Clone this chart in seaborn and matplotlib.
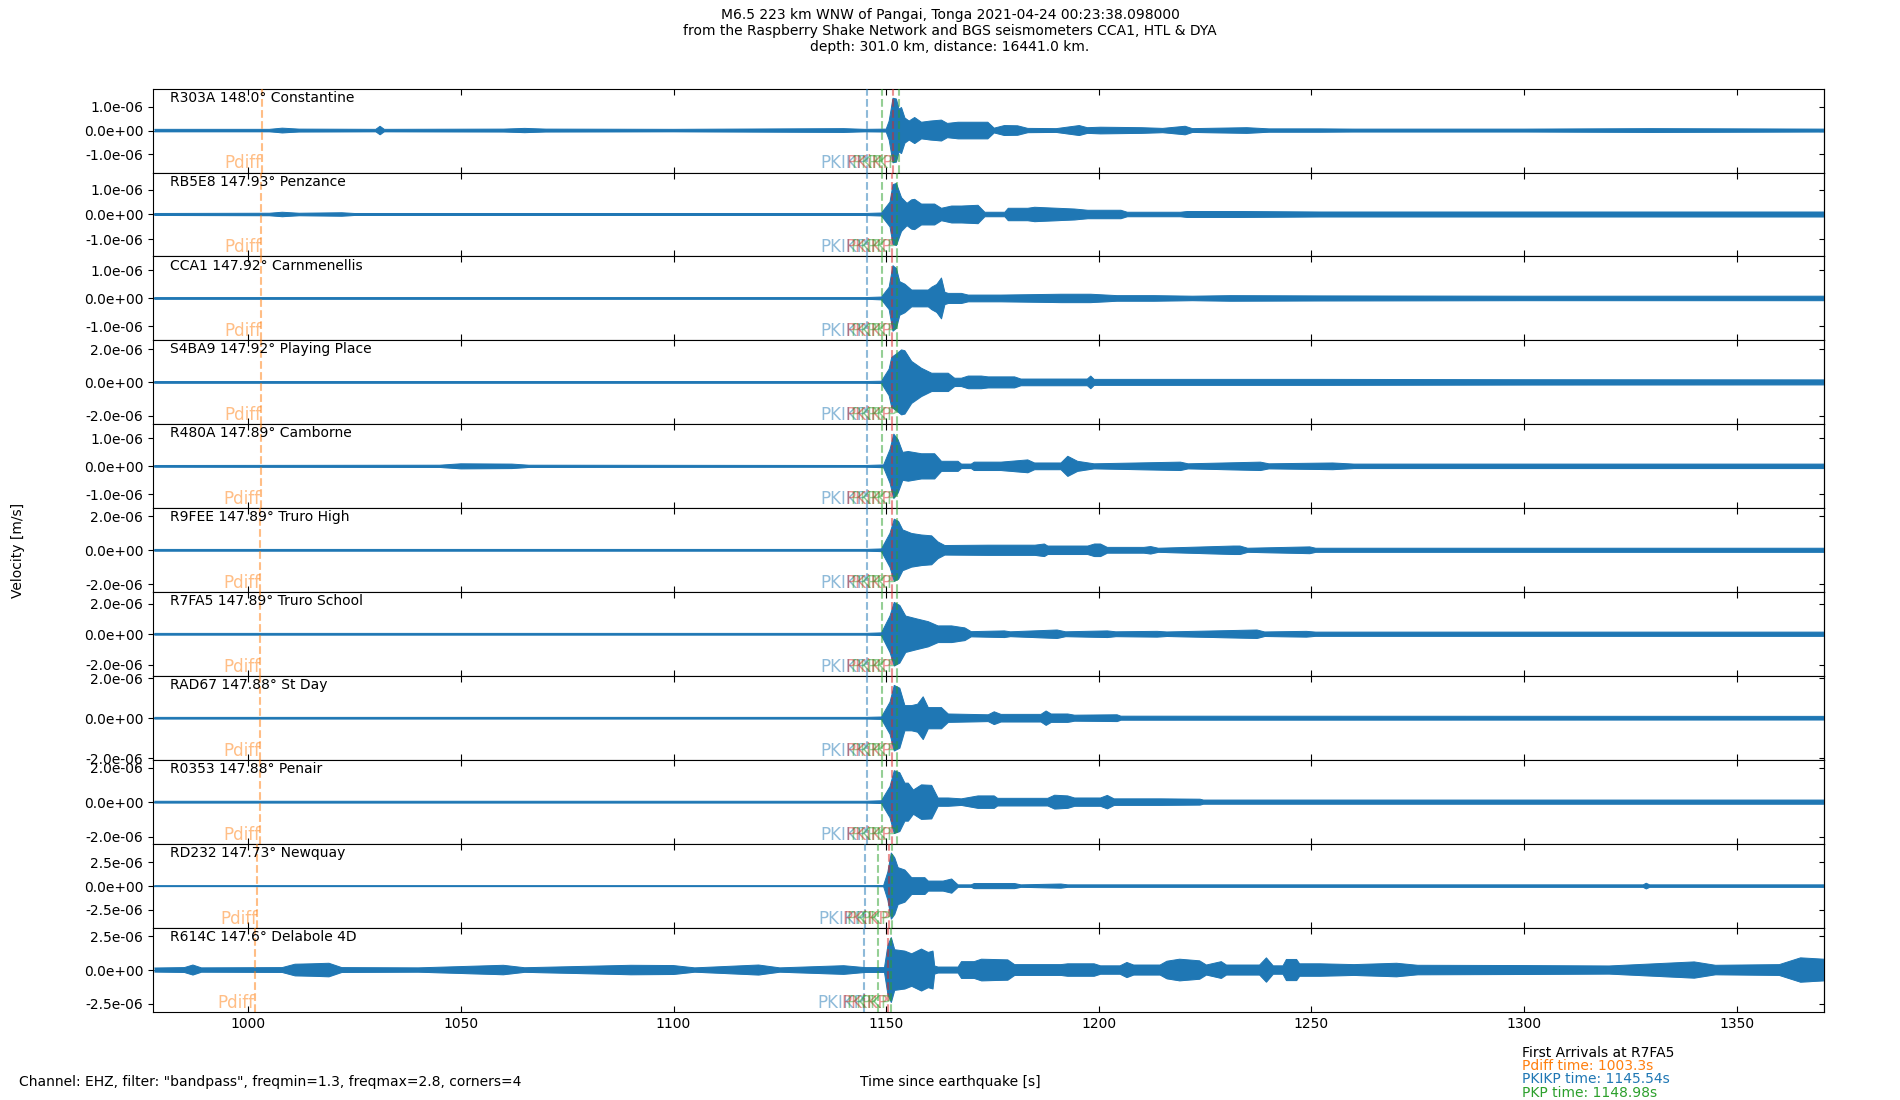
import numpy as np
import pandas as pd
import matplotlib
matplotlib.use("Agg")
import matplotlib.pyplot as plt
from matplotlib.ticker import FormatStrFormatter
import seaborn as sns

# ---------------- data ----------------
stations = ["R303A", "RB5E8", "CCA1", "S4BA9", "R480A", "R9FEE",
            "R7FA5", "RAD67", "R0353", "RD232", "R614C"]
distances = ["148.0", "147.93", "147.92", "147.92", "147.89", "147.89",
             "147.89", "147.88", "147.88", "147.73", "147.6"]
places = ["Constantine", "Penzance", "Carnmenellis", "Playing Place", "Camborne",
          "Truro High", "Truro School", "St Day", "Penair", "Newquay", "Delabole 4D"]

# y tick step and half y-range per panel [m/s]
ytick_step = [1.0e-6, 1.0e-6, 1.0e-6, 2.0e-6, 1.0e-6, 2.0e-6,
              2.0e-6, 2.0e-6, 2.0e-6, 2.5e-6, 2.5e-6]
ylim_half = [1.77e-6, 1.69e-6, 1.50e-6, 2.52e-6, 1.50e-6, 2.47e-6,
             2.77e-6, 2.10e-6, 2.43e-6, 4.44e-6, 3.10e-6]

# phase arrival times per station [s]
pdiff_t = [1003.2, 1003.1, 1003.0, 1003.0, 1002.9, 1002.8, 1002.8, 1002.8, 1002.8, 1002.1, 1001.5]
pkikp_t = [1145.6, 1145.55, 1145.55, 1145.55, 1145.55, 1145.54, 1145.54, 1145.5, 1145.5, 1145.1, 1144.9]
pkp_t = [1149.1, 1149.0, 1149.0, 1149.0, 1149.0, 1148.98, 1148.98, 1148.98, 1148.98, 1148.0, 1148.0]
pkikp_inner_t = [1151.5, 1151.3, 1151.3, 1151.3, 1151.3, 1151.3, 1151.3, 1151.3, 1151.3, 1150.7, 1150.5]
pkp2_t = [1152.9, 1152.6, 1152.6, 1152.6, 1152.6, 1152.6, 1152.6, 1152.6, 1152.6, 1151.3, 1151.2]

# first arrivals listed for R7FA5
first_phase = ["Pdiff", "PKIKP", "PKP"]
first_time = [1003.3, 1145.54, 1148.98]

# trace envelopes: (time [s], peak amplitude [1e-7 m/s])
R303A = [(978, 0.5), (1005, 0.5), (1008, 1.0), (1012, 0.6), (1030, 0.5), (1031, 1.8), (1032, 0.5),
         (1060, 0.6), (1065, 0.9), (1070, 0.6), (1100, 0.5), (1140, 0.8), (1145, 0.5), (1150.0, 0.6),
         (1150.7, 4.0), (1151.6, 13.6), (1152.4, 13.3), (1153.0, 9.0), (1153.6, 9.7), (1154.4, 5.3),
         (1155.4, 4.0), (1156.7, 5.5), (1158.3, 3.5), (1160.4, 4.0), (1163.0, 4.4), (1164.4, 3.0),
         (1166.9, 3.5), (1169.2, 3.5), (1171.4, 3.5), (1173.9, 3.5), (1175.4, 1.0), (1177.8, 2.1),
         (1180.9, 2.0), (1183.3, 0.9), (1190, 0.8), (1195.4, 2.1), (1197.3, 1.2), (1200.4, 1.4),
         (1210, 1.2), (1215, 0.9), (1220.3, 1.8), (1222, 0.8), (1234.8, 1.2), (1240, 0.7),
         (1252, 0.7), (1260, 0.6), (1300, 0.6), (1330, 0.8), (1370.5, 0.6)]
RB5E8 = [(978, 0.4), (1005, 0.5), (1008, 0.9), (1012, 0.5), (1022, 0.7), (1025, 0.4), (1100, 0.4),
         (1145, 0.4), (1148.9, 0.6), (1150.9, 5.0), (1151.6, 12.0), (1152.4, 12.5), (1153.6, 6.8),
         (1154.9, 4.5), (1156.0, 5.9), (1156.7, 6.1), (1158.3, 4.2), (1161.4, 4.2), (1163.0, 2.5),
         (1165.4, 3.4), (1167.7, 3.4), (1171.6, 3.7), (1173.2, 0.9), (1177.9, 0.9), (1178.7, 2.5),
         (1183.3, 2.5), (1184.9, 2.9), (1194.3, 2.2), (1197.4, 1.7), (1205.2, 1.7), (1206.7, 0.9),
         (1219.2, 0.9), (1220.8, 1.2), (1233.2, 1.2), (1252, 1.0), (1300, 1.0), (1370.5, 1.0)]
CCA1 = [(978, 0.3), (1100, 0.3), (1145, 0.3), (1148.9, 0.5), (1150.7, 4.0), (1151.6, 11.7),
        (1152.4, 10.7), (1153.2, 6.0), (1154.4, 5.1), (1156.0, 3.0), (1159.9, 3.0), (1160.7, 4.0),
        (1161.9, 5.0), (1163.0, 7.3), (1163.8, 2.2), (1164.6, 1.8), (1167.7, 1.8), (1169.3, 1.2),
        (1177.0, 1.2), (1191.1, 1.5), (1198.1, 1.5), (1204.3, 1.0), (1213, 1.0), (1222, 0.8),
        (1231, 1.0), (1252, 0.9), (1300, 0.8), (1370.5, 0.8)]
S4BA9 = [(978, 0.5), (1100, 0.5), (1145, 0.5), (1148.9, 0.7), (1150.7, 8.0), (1151.3, 15.0),
         (1152.4, 17.0), (1153.6, 19.5), (1154.4, 19.0), (1156.0, 12.6), (1158.3, 8.5), (1160.7, 5.5),
         (1164.6, 5.5), (1166.1, 2.5), (1167.7, 2.5), (1169.3, 3.8), (1172.4, 3.8), (1174.0, 3.3),
         (1180.2, 3.3), (1181.7, 2.0), (1197.3, 2.0), (1198.1, 3.8), (1198.9, 1.8), (1252, 1.8),
         (1300, 1.6), (1370.5, 1.5)]
R480A = [(978, 0.3), (1045, 0.4), (1050, 0.9), (1062, 0.8), (1066, 0.4), (1145, 0.3), (1149.4, 0.5),
         (1150.9, 6.0), (1151.8, 11.5), (1152.8, 9.5), (1153.9, 5.0), (1155.2, 5.3), (1158.3, 4.5),
         (1161.4, 4.5), (1163.0, 1.8), (1166.9, 1.8), (1167.7, 0.8), (1170.0, 0.8), (1170.7, 1.5),
         (1177.0, 1.5), (1183.3, 2.3), (1184.9, 1.2), (1191.1, 1.2), (1192.7, 3.6), (1195.0, 1.8),
         (1198.9, 0.9), (1219.2, 1.5), (1221, 0.9), (1238, 1.5), (1240, 0.9), (1255, 1.2),
         (1260, 0.8), (1370.5, 0.8)]
R9FEE = [(978, 0.5), (1100, 0.5), (1145, 0.5), (1148.9, 0.8), (1150.9, 10.0), (1151.9, 18.3),
         (1152.9, 17.0), (1153.9, 12.0), (1156.0, 9.9), (1158.3, 9.0), (1160.7, 8.5), (1162.2, 4.9),
         (1163.8, 2.8), (1174.0, 3.0), (1175.5, 3.0), (1185, 3.0), (1187.2, 3.7), (1188, 2.5),
         (1197.4, 2.5), (1199, 3.7), (1200.4, 3.7), (1202, 1.7), (1210.6, 1.7), (1212.2, 2.2),
         (1214, 1.2), (1231.7, 2.5), (1233.2, 2.5), (1235, 1.2), (1249.6, 2.0), (1251, 1.2),
         (1370.5, 1.2)]
R7FA5 = [(978, 0.55), (1100, 0.55), (1145, 0.55), (1148.9, 0.9), (1150.9, 12.0), (1151.9, 21.0),
         (1153.2, 19.0), (1154.6, 12.0), (1157.1, 10.2), (1159.9, 8.3), (1162.2, 5.5), (1165.4, 5.5),
         (1167.7, 4.5), (1168.5, 4.2), (1170, 1.7), (1177.8, 2.2), (1179.2, 1.6), (1190.2, 2.8),
         (1192.2, 1.6), (1202, 2.2), (1204, 1.6), (1213.7, 1.9), (1216, 1.5), (1237.2, 2.8),
         (1239, 1.5), (1248.8, 1.9), (1251, 1.4), (1370.5, 1.4)]
RAD67 = [(978, 0.4), (1100, 0.4), (1145, 0.4), (1148.9, 0.6), (1150.9, 8.0), (1151.9, 16.4),
         (1153.2, 15.0), (1154.4, 6.3), (1156.0, 6.3), (1157.4, 7.0), (1158.7, 10.7), (1159.9, 5.3),
         (1163.0, 5.3), (1164.6, 2.1), (1174, 1.7), (1175.4, 3.2), (1177, 1.9), (1186.4, 1.9),
         (1187.6, 3.6), (1188.8, 2.1), (1192.7, 2.1), (1194.3, 1.5), (1204.3, 1.7), (1205.2, 1.0),
         (1370.5, 0.9)]
R0353 = [(978, 0.5), (1100, 0.5), (1145, 0.5), (1148.9, 0.8), (1150.9, 9.0), (1151.9, 18.2),
         (1153.2, 17.0), (1154.4, 11.0), (1155.2, 11.0), (1156.4, 7.0), (1158.3, 10.0), (1160.7, 9.7),
         (1162.2, 2.4), (1164.6, 2.4), (1167.7, 1.9), (1171.6, 3.6), (1175.4, 3.6), (1176.2, 2.2),
         (1188, 2.2), (1189.6, 4.0), (1192.7, 3.6), (1194.3, 2.4), (1200.4, 2.4), (1202, 3.9),
         (1203.6, 1.9), (1214.5, 1.9), (1223.8, 1.7), (1224.6, 1.2), (1370.5, 1.2)]
RD232 = [(978, 0.45), (1100, 0.45), (1145, 0.45), (1149.4, 0.6), (1150.4, 15.0), (1151.2, 35.0),
         (1152.0, 30.0), (1152.8, 19.5), (1154.4, 17.0), (1156.0, 8.9), (1159.1, 8.9), (1159.9, 5.3),
         (1163.4, 5.3), (1165.4, 7.5), (1166.9, 1.3), (1170, 1.3), (1170.7, 2.7), (1180.2, 2.7),
         (1181.7, 1.3), (1191.1, 2.2), (1192.7, 1.3), (1328, 1.3), (1328.7, 3.0), (1329.5, 1.3),
         (1370.5, 1.3)]
R614C = [(978, 1.5), (985, 1.8), (987, 3.7), (989, 1.6), (1008, 1.8), (1011, 4.3), (1015, 4.6),
         (1019, 5.0), (1022, 1.8), (1040, 1.6), (1060, 3.5), (1065, 1.7), (1090, 3.5), (1100, 3.3),
         (1105, 1.6), (1120, 3.7), (1125, 1.6), (1140, 3.2), (1145, 1.8), (1149.6, 1.8),
         (1150.4, 18.0), (1151.2, 24.0), (1152.0, 15.0), (1154.4, 14.0), (1156.0, 12.0),
         (1158.3, 15.5), (1159.9, 13.0), (1161.0, 14.0), (1161.4, 3.0), (1162.2, 2.2), (1166.9, 2.2),
         (1167.7, 6.2), (1170.7, 6.2), (1172.4, 8.0), (1178.6, 7.5), (1180.2, 4.0), (1191.1, 4.0),
         (1192.7, 4.6), (1198.9, 4.6), (1200.4, 3.1), (1205, 3.1), (1206.6, 5.6), (1208.2, 3.7),
         (1214.4, 3.7), (1216, 6.5), (1219, 8.0), (1223.7, 6.8), (1225.3, 3.7), (1228.8, 6.2),
         (1230, 3.7), (1237.8, 3.7), (1239.4, 9.0), (1241, 3.1), (1243.3, 3.1), (1244.1, 7.8),
         (1246.5, 7.8), (1247.2, 4.6), (1252, 4.6), (1260, 4.0), (1270, 5.0), (1275, 3.5),
         (1300, 3.3), (1320, 3.0), (1340, 6.0), (1345, 3.5), (1360, 4.0), (1365, 9.0), (1370.5, 8.0)]

traces = [R303A, RB5E8, CCA1, S4BA9, R480A, R9FEE, R7FA5, RAD67, R0353, RD232, R614C]
x_limits = (977.6, 1370.5)

# ---------------- style ----------------
sns.set_style("ticks", rc={"axes.edgecolor": "black", "text.color": "black",
                           "xtick.color": "black", "ytick.color": "black",
                           "axes.labelcolor": "black"})
plt.rcParams["font.family"] = ["DejaVu Sans"]
plt.rcParams["font.size"] = 10
plt.rcParams["hatch.linewidth"] = 1.1

C_BLUE, C_ORANGE, C_GREEN, C_RED = "#1f77b4", "#ff7f0e", "#2ca02c", "#d62728"

fig, axes = plt.subplots(len(stations), 1, figsize=(19, 11), dpi=100, sharex=True)
fig.subplots_adjust(left=0.0805, right=0.96, top=0.9195, bottom=0.080, hspace=0)

for i, ax in enumerate(axes):
    arr = np.array(traces[i], dtype=float)
    t = arr[:, 0]
    amp = arr[:, 1] * 1e-7
    df = pd.DataFrame({"t": t, "upper": amp, "lower": -amp})
    # light body + vertical strokes to give the oscillating-trace texture
    ax.fill_between(df["t"], df["lower"], df["upper"], color=C_BLUE, alpha=0.35, lw=0, zorder=2)
    ax.fill_between(df["t"], df["lower"], df["upper"], facecolor="none", edgecolor=C_BLUE,
                    hatch="|" * 22, lw=0, zorder=2)
    sns.lineplot(data=df, x="t", y="upper", ax=ax, color=C_BLUE, lw=0.7, zorder=2)
    sns.lineplot(data=df, x="t", y="lower", ax=ax, color=C_BLUE, lw=0.7, zorder=2)
    ax.axhline(0, color=C_BLUE, lw=0.9, zorder=2)
    ax.set_xlabel("")
    ax.set_ylabel("")

    h = ylim_half[i]
    s = ytick_step[i]
    ax.set_xlim(*x_limits)
    ax.set_ylim(-h, h)
    ax.set_yticks([-s, 0, s])
    ax.yaxis.set_major_formatter(FormatStrFormatter("%.1e"))

    phases = [(pdiff_t[i], "Pdiff", C_ORANGE), (pkikp_t[i], "PKIKP", C_BLUE),
              (pkp_t[i], "PKP", C_GREEN), (pkikp_inner_t[i], "PKiKP", C_RED),
              (pkp2_t[i], "PKP", C_GREEN)]
    for tt, name, col in phases:
        ax.axvline(tt, color=col, ls="--", lw=1.5, alpha=0.5, zorder=3)
        ax.text(tt, -h, name, color=col, alpha=0.5, fontsize=12,
                ha="right", va="bottom", zorder=4)

    ax.text(0.01, 0.975, f"{stations[i]} {distances[i]}\u00b0 {places[i]}",
            transform=ax.transAxes, ha="left", va="top", fontsize=10, zorder=5)

    ax.tick_params(axis="x", direction="in", top=True, bottom=True, length=4,
                   labelbottom=(i == len(stations) - 1), labeltop=False)
    ax.tick_params(axis="y", direction="out", left=True, right=False)
    sec = ax.secondary_yaxis("right")
    sec.set_yticks([-s, 0, s])
    sec.set_yticklabels([])
    sec.tick_params(axis="y", direction="in")
    for sp in ax.spines.values():
        sp.set_color("black")

axes[-1].set_xticks([1000, 1050, 1100, 1150, 1200, 1250, 1300, 1350])

fig.suptitle("M6.5 223 km WNW of Pangai, Tonga 2021-04-24 00:23:38.098000\n"
             "from the Raspberry Shake Network and BGS seismometers CCA1, HTL & DYA\n"
             "depth: 301.0 km, distance: 16441.0 km.", fontsize=10, y=0.993)

fig.text(0.0095, 0.5, "Velocity [m/s]", rotation=90, ha="center", va="center", fontsize=10)
fig.text(0.0102, 0.0165, 'Channel: EHZ, filter: "bandpass", freqmin=1.3, freqmax=2.8, corners=4',
         ha="left", va="center", fontsize=10)
fig.text(0.5, 0.0165, "Time since earthquake [s]", ha="center", va="center", fontsize=10)

fig.text(0.801, 0.043, "First Arrivals at R7FA5", ha="left", va="center", fontsize=10)
arr_cols = [C_ORANGE, C_BLUE, C_GREEN]
arr_y = [0.031, 0.0187, 0.0066]
for ph, tm, col, yy in zip(first_phase, first_time, arr_cols, arr_y):
    fig.text(0.801, yy, f"{ph} time: {tm}s", color=col, ha="left", va="center", fontsize=10)

fig.savefig("out.png", dpi=100)
